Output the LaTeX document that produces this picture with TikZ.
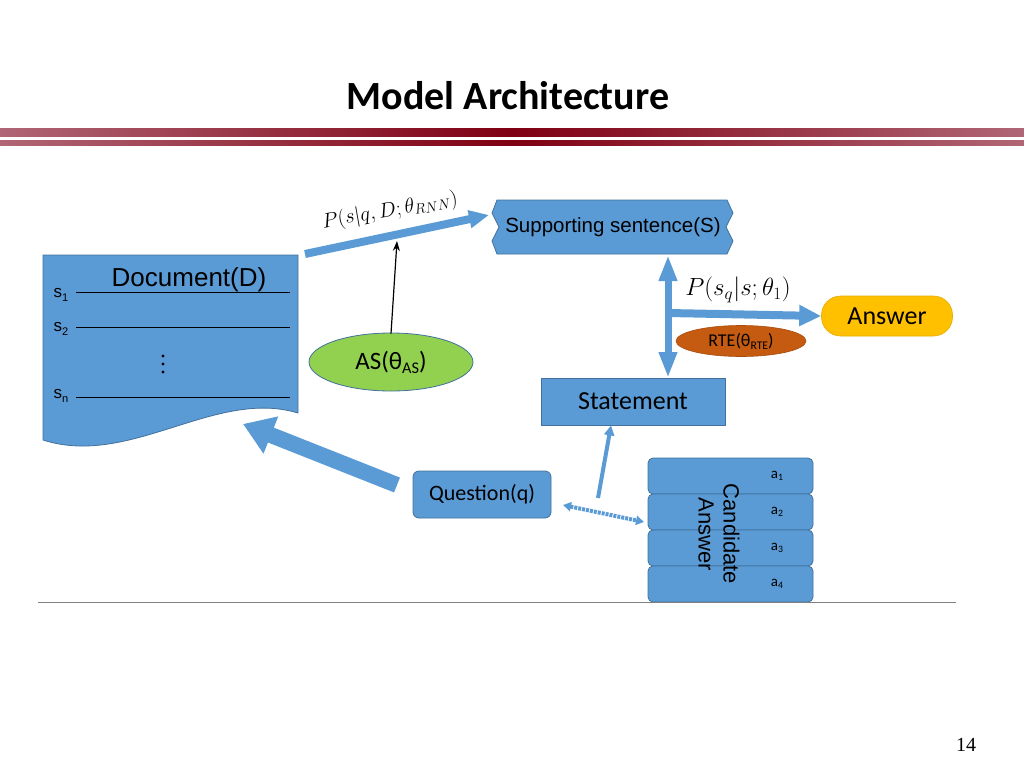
\documentclass[tikz,border=0pt]{standalone}
\usepackage{fontspec}
\usetikzlibrary{arrows.meta,shapes.geometric,calc}
\newfontfamily\carl{Carlito}
\newfontfamily\ari{Liberation Sans}
\newfontfamily\tms{Liberation Serif}
\definecolor{fillblue}{HTML}{5B9BD5}
\definecolor{edgeblue}{HTML}{41719C}
\definecolor{asgreen}{HTML}{92D050}
\definecolor{ansorange}{HTML}{FFC000}
\definecolor{rtebrown}{HTML}{C55A11}
\definecolor{barpink}{HTML}{B06676}
\definecolor{barred}{HTML}{7F0012}
\newcommand{\lowsub}[1]{\raisebox{-0.35ex}{\scalebox{0.65}{#1}}}
\begin{document}
\begin{tikzpicture}[x=1pt,y=-1pt,
  box/.style={draw=edgeblue,line width=0.8pt,fill=fillblue,inner sep=0pt}]
\useasboundingbox (0,0) rectangle (1024,768);
% title and bars
\node (title) at (508,96) {\carl\bfseries\fontsize{40}{44}\selectfont Model Architecture};
\shade[left color=barpink,right color=barpink,middle color=barred] (0,128) rectangle (1024,136);
\shade[left color=barpink,right color=barpink,middle color=barred] (0,140) rectangle (1024,145);
% document
\path[box] (43,255) -- (298,255) -- (298,413) .. controls (215,388) and (130,468) .. (43,440) -- cycle;
\node (doctitle) at (189,280) {\ari\fontsize{26}{28}\selectfont Document(D)};
\draw[line width=0.8pt] (76,292) -- (290,292);
\draw[line width=0.8pt] (76,327) -- (290,327);
\draw[line width=0.8pt] (76,397) -- (290,397);
\node (s1) at (61,295) {\ari\fontsize{17}{18}\selectfont s\lowsub{1}};
\node (s2) at (61,329) {\ari\fontsize{17}{18}\selectfont s\lowsub{2}};
\node (sn) at (61,396) {\ari\fontsize{17}{18}\selectfont s\lowsub{n}};
\fill (163,356) circle (1.6) (163,364) circle (1.6) (163,372) circle (1.6);
\coordinate (docTR) at (305,254);
\coordinate (docIn) at (243,424);
% supporting sentence
\path[box] (497,200) -- (727,200) -- (733,213) -- (726,227) -- (733,241) -- (727,254) -- (497,254) -- (492,241) -- (499,227) -- (492,213) -- cycle;
\node (sup) at (613,227) {\ari\fontsize{20.5}{23}\selectfont Supporting sentence(S)};
\coordinate (supIn) at (489,215);
% AS ellipse
\node[ellipse,draw=edgeblue,line width=0.8pt,fill=asgreen,minimum width=164pt,minimum height=58pt,inner sep=0pt] (as) at (391,362) {\carl\fontsize{25}{27}\selectfont AS(θ\lowsub{AS})};
% statement
\node[box,minimum width=184pt,minimum height=47pt] (stmt) at (633,401.5) {\carl\fontsize{26}{28}\selectfont Statement};
% answer
\node[draw=ansorange!90!black,line width=0.6pt,fill=ansorange,rounded corners=19pt,minimum width=131pt,minimum height=40pt] (ans) at (887,316) {\carl\fontsize{26}{28}\selectfont Answer};
% RTE
\node[ellipse,draw=rtebrown!85!black,line width=0.6pt,fill=rtebrown,minimum width=130pt,minimum height=31pt,inner sep=0pt] (rte) at (741,341) {\carl\fontsize{18}{20}\selectfont RTE(θ\lowsub{RTE})};
% question
\node[box,rounded corners=6pt,minimum width=138pt,minimum height=47pt] (q) at (482,494.5) {\carl\fontsize{22}{24}\selectfont Question(q)};
% candidate stack
\foreach \i/\y in {1/476,2/512,3/548,4/584}{
  \node[box,rounded corners=5pt,minimum width=165pt,minimum height=36pt] (c\i) at (730.5,\y) {};
  \node (a\i) at (777,\y) {\carl\fontsize{15}{16}\selectfont a\lowsub{\i}};
}
\node[rotate=-90,align=center,font=\ari\fontsize{22}{25}\selectfont] (cand) at (719,534) {Candidate\\Answer};
% connectors
\draw[fillblue,line width=8pt,-{Triangle[width=17pt,length=20pt]}] (docTR) -- (supIn);
\node[rotate=10,inner sep=0pt] (plabel) at (390,211) {\fontsize{21}{23}\selectfont $P(s|q,D;\theta_{RNN})$};
\coordinate (onArrow) at (397,241);
\draw[line width=1.2pt,-{Stealth[length=10pt,width=7pt]}] (as.north) ++(0,1) -- (onArrow);
\coordinate (vTop) at (668,255);
\coordinate (vBot) at (668,378);
\coordinate (vMid) at (668,313);
\draw[fillblue,line width=7pt,{Triangle[width=17pt,length=26pt]}-{Triangle[width=17pt,length=26pt]}] (vTop) -- (vBot);
\draw[fillblue,line width=8pt,-{Triangle[width=20pt,length=22pt]}] (vMid) -- (ans.west);
\node (plabel2) at (738,290) {\fontsize{24}{26}\selectfont $P(s_q|s;\theta_1)$};
\draw[fillblue,line width=16pt,-{Triangle[width=38pt,length=30pt]}] (397,485) -- (docIn);
\coordinate (candTop) at (598,498);
\draw[fillblue,line width=4pt,-{Triangle[width=10pt,length=10pt]}] (candTop) -- (stmt.south -| 611,0);
\coordinate (qR) at (563,505);
\coordinate (cL) at (644,522);
\draw[fillblue,line width=4pt,dash pattern=on 3pt off 1pt,{Triangle[width=9pt,length=8pt]}-{Triangle[width=9pt,length=8pt]}] (qR) -- (cL);
% baseline and page number
\draw[gray,line width=1pt] (38,602) -- (956,602);
\node (page) at (966,745) {\tms\fontsize{20}{22}\selectfont 14};
\end{tikzpicture}
\end{document}
